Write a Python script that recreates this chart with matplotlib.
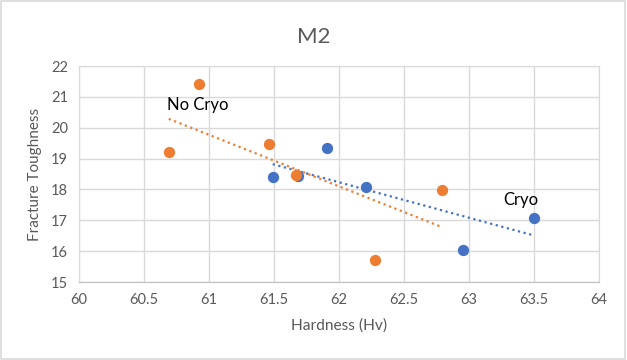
import matplotlib
matplotlib.use("Agg")
import matplotlib.pyplot as plt
import numpy as np
from matplotlib.patches import Rectangle

# Data
cryo_x = [61.49, 61.685, 61.91, 62.21, 62.95, 63.5]
cryo_y = [18.41, 18.43, 19.34, 18.09, 16.05, 17.07]
nocryo_x = [60.69, 60.92, 61.46, 61.67, 62.28, 62.79]
nocryo_y = [19.21, 21.42, 19.47, 18.46, 15.71, 17.99]
x_ticks = [60, 60.5, 61, 61.5, 62, 62.5, 63, 63.5, 64]
y_ticks = [15, 16, 17, 18, 19, 20, 21, 22]

blue = "#4472C4"
orange = "#ED7D31"
grid = "#D9D9D9"
txt = "#595959"

plt.rcParams['font.family'] = ['Lato', 'DejaVu Sans']

fig = plt.figure(figsize=(6.27, 3.6), dpi=100)
ax = fig.add_axes([79/627, 1-282/360, (599-79)/627, (282-66)/360])

# Trend lines
for xs, ys, c in [(nocryo_x, nocryo_y, orange), (cryo_x, cryo_y, blue)]:
    m, b = np.polyfit(xs, ys, 1)
    xx = np.array([min(xs), max(xs)])
    ax.plot(xx, m*xx + b, color=c, lw=1.6, linestyle=(0, (1, 1.6)), zorder=2)

ax.scatter(cryo_x, cryo_y, s=66, color=blue, zorder=3, linewidths=0)
ax.scatter(nocryo_x, nocryo_y, s=66, color=orange, zorder=4, linewidths=0)

ax.set_xlim(60, 64)
ax.set_ylim(15, 22)
ax.set_xticks(x_ticks)
ax.set_xticklabels([f"{v:g}" for v in x_ticks])
ax.set_yticks(y_ticks)
ax.grid(True, color=grid, lw=1)
ax.set_axisbelow(True)
for s in ax.spines.values():
    s.set_color(grid)
ax.spines['bottom'].set_color("#BFBFBF")
ax.tick_params(length=0, labelsize=10.5, colors=txt, pad=8)

ax.set_xlabel("Hardness (Hv)", fontsize=11.2, color=txt, labelpad=8)
ax.set_ylabel("Fracture Toughness", fontsize=11, color=txt, labelpad=6)
fig.text(0.5, 1-37/360, "M2", ha='center', va='center', fontsize=16, color=txt)

ax.text(60.68, 20.74, "No Cryo", fontsize=12, color="#000000", va='center', ha='left')
ax.text(63.26, 17.66, "Cryo", fontsize=12, color="#000000", va='center', ha='left')

fig.patches.append(Rectangle((0.002, 0.003), 0.995, 0.993, transform=fig.transFigure,
                             fill=False, edgecolor="#D9D9D9", lw=1.2))

fig.savefig("out.png", dpi=100)
